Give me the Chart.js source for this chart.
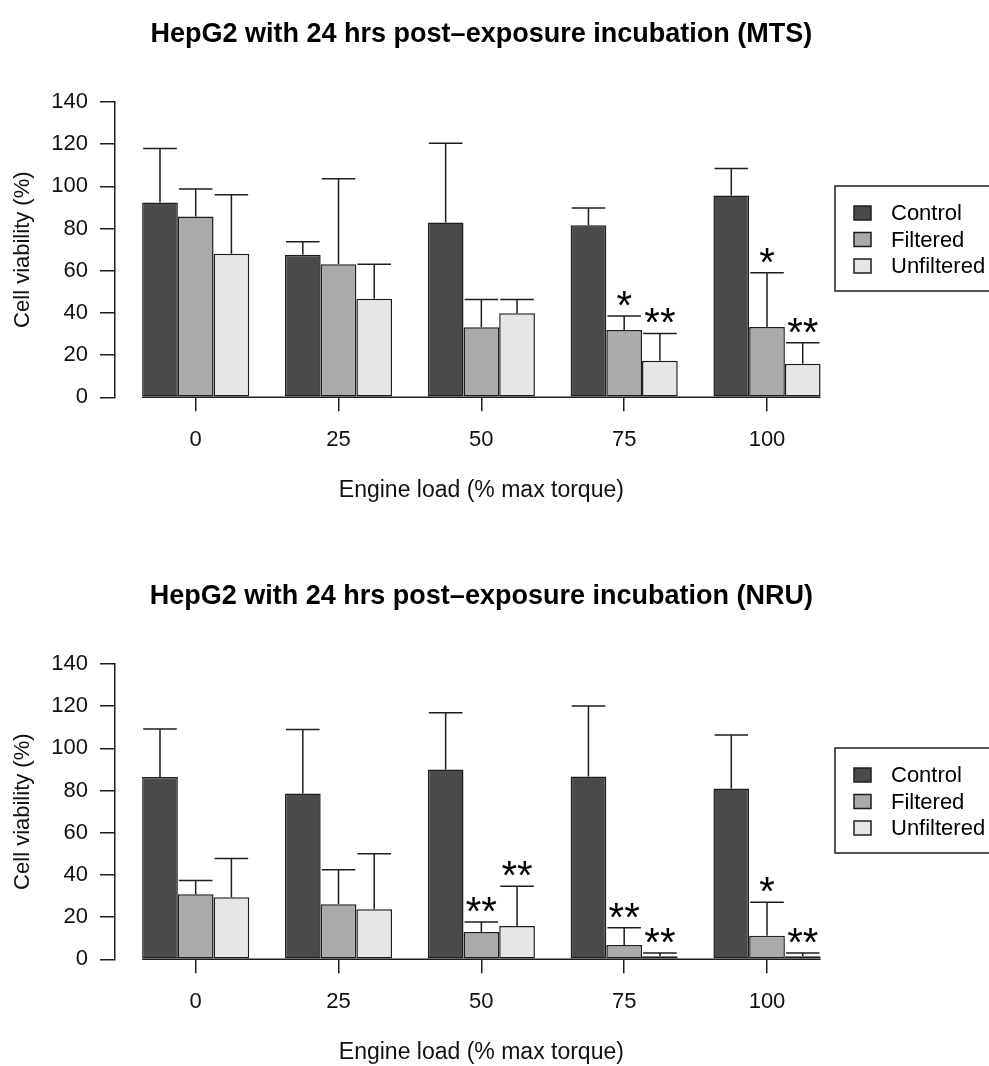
<!DOCTYPE html>
<html>
<head>
<meta charset="utf-8">
<script src="https://cdn.jsdelivr.net/npm/chart.js@4.4.0/dist/chart.umd.min.js"></script>
<style>
body { margin: 0; background: #fff; }
.panel { position: absolute; left: 0; width: 989px; height: 504px; }
</style>
</head>
<body>
<div class="panel" style="top:0"><canvas id="mts" width="989" height="504"></canvas></div>
<div class="panel" style="top:562px"><canvas id="nru" width="989" height="504"></canvas></div>
<script>
// engine loads (x categories) and y axis ticks
const loads = [0, 25, 50, 75, 100];
const yTickValues = [0, 20, 40, 60, 80, 100, 120, 140];
const seriesNames = ['Control', 'Filtered', 'Unfiltered'];
const seriesColors = ['#4a4a4a', '#aaaaaa', '#e6e6e6'];

// MTS panel: means and upper error (sd)
const mtsControl = [92.4, 67.6, 82.9, 81.6, 95.7];
const mtsControlSd = [25.5, 6.1, 37.6, 8.2, 12.8];
const mtsFiltered = [85.7, 63.1, 33.2, 31.9, 33.3];
const mtsFilteredSd = [13.1, 40.5, 13.2, 6.6, 25.7];
const mtsUnfiltered = [68.0, 46.7, 39.8, 17.3, 15.9];
const mtsUnfilteredSd = [28.0, 16.4, 6.6, 13.0, 10.0];
const mtsStars = [['', '', '', '', ''], ['', '', '', '*', '*'], ['', '', '', '**', '**']];

// NRU panel
const nruControl = [86.4, 78.6, 90.0, 86.7, 81.0];
const nruControlSd = [22.8, 30.4, 26.9, 33.4, 25.3];
const nruFiltered = [30.8, 26.1, 13.0, 6.8, 11.2];
const nruFilteredSd = [6.5, 16.3, 4.7, 8.2, 15.9];
const nruUnfiltered = [29.4, 23.7, 15.8, 1.4, 1.4];
const nruUnfilteredSd = [18.4, 26.3, 18.8, 1.6, 1.6];
const nruStars = [['', '', '', '', ''], ['', '', '**', '**', '*'], ['', '', '**', '**', '**']];

const ink = '#1e1e1e';
const lw = 1.5;
const fontFam = "'Liberation Sans', Arial, Helvetica, sans-serif";
Chart.defaults.font.family = fontFam;
Chart.defaults.color = '#111';

function makeChart(id, title, means, sds, stars) {
  const extras = {
    id: 'extras',
    afterDatasetsDraw(chart) {
      const ctx = chart.ctx;
      const y = chart.scales.y;
      ctx.save();
      ctx.strokeStyle = ink;
      ctx.lineWidth = lw;
      // line along zero under all bars
      const first = chart.getDatasetMeta(0).data[0];
      const last = chart.getDatasetMeta(2).data[loads.length - 1];
      const y0 = y.getPixelForValue(0);
      ctx.beginPath();
      ctx.moveTo(first.x - first.width / 2, y0);
      ctx.lineTo(last.x + last.width / 2, y0);
      ctx.stroke();
      // error bars + significance stars
      ctx.font = '40px ' + fontFam;
      ctx.fillStyle = '#000';
      ctx.textAlign = 'center';
      ctx.textBaseline = 'alphabetic';
      sds.forEach((sd, i) => {
        chart.getDatasetMeta(i).data.forEach((bar, j) => {
          const top = y.getPixelForValue(means[i][j] + sd[j]);
          const hw = bar.width * 0.47;
          ctx.beginPath();
          ctx.moveTo(bar.x, bar.y);
          ctx.lineTo(bar.x, top);
          ctx.moveTo(bar.x - hw, top);
          ctx.lineTo(bar.x + hw, top);
          ctx.stroke();
          if (stars[i][j]) ctx.fillText(stars[i][j], bar.x, top + 3);
        });
      });
      ctx.restore();
    },
    afterDraw(chart) {
      // legend box at right
      const ctx = chart.ctx;
      const top = chart.chartArea.top + 84;
      ctx.save();
      ctx.strokeStyle = ink;
      ctx.lineWidth = lw;
      ctx.strokeRect(835, top, 170, 105);
      ctx.font = '22px ' + fontFam;
      ctx.textBaseline = 'middle';
      ctx.textAlign = 'left';
      chart.data.datasets.forEach((ds, i) => {
        const ry = top + 27 + i * 26.5;
        ctx.fillStyle = ds.backgroundColor;
        ctx.fillRect(854, ry - 7, 17, 14);
        ctx.strokeRect(854, ry - 7, 17, 14);
        ctx.fillStyle = '#000';
        ctx.fillText(ds.label, 891, ry + 1);
      });
      ctx.restore();
    }
  };

  return new Chart(document.getElementById(id), {
    type: 'bar',
    data: {
      datasets: seriesNames.map((name, i) => ({
        label: name,
        data: loads.map((x, j) => ({ x: x, y: means[i][j] })),
        backgroundColor: seriesColors[i],
        borderColor: ink,
        borderWidth: lw,
        borderSkipped: false,
        categoryPercentage: 0.75,
        barPercentage: 1
      }))
    },
    options: {
      responsive: false,
      animation: false,
      events: [],
      layout: { padding: { left: 0, right: 141.3, top: 0, bottom: 0 } },
      plugins: {
        legend: { display: false },
        tooltip: { enabled: false },
        title: {
          display: true,
          text: title,
          fullSize: false,
          color: '#000',
          font: { size: 27, weight: 'bold' },
          padding: { top: 18, bottom: 51.6 }
        }
      },
      scales: {
        x: {
          type: 'linear',
          min: -14.125,
          max: 114.125,
          offset: false,
          afterBuildTicks: s => { s.ticks = loads.map(v => ({ value: v })); },
          afterFit: s => { s.height = 106.7; },
          border: { display: false },
          grid: { drawOnChartArea: false, offset: false, tickLength: 14, color: ink, lineWidth: lw },
          ticks: { padding: 15, color: '#111', font: { size: 22 } },
          title: { display: true, text: 'Engine load (% max torque)', color: '#111', font: { size: 23 }, padding: { top: 0, bottom: 0 } }
        },
        y: {
          min: 0,
          max: 140,
          afterBuildTicks: s => { s.ticks = yTickValues.map(v => ({ value: v })); },
          afterFit: s => { s.width = 115; },
          border: { display: true, color: ink, width: lw },
          grid: { drawOnChartArea: false, tickLength: 15, color: ink, lineWidth: lw },
          ticks: { padding: 12, color: '#111', font: { size: 22 } },
          title: { display: true, text: 'Cell viability (%)', color: '#111', font: { size: 22 }, padding: { top: 10, bottom: 0 } }
        }
      }
    },
    plugins: [extras]
  });
}

makeChart('mts', 'HepG2 with 24 hrs post\u2013exposure incubation (MTS)',
  [mtsControl, mtsFiltered, mtsUnfiltered], [mtsControlSd, mtsFilteredSd, mtsUnfilteredSd], mtsStars);
makeChart('nru', 'HepG2 with 24 hrs post\u2013exposure incubation (NRU)',
  [nruControl, nruFiltered, nruUnfiltered], [nruControlSd, nruFilteredSd, nruUnfilteredSd], nruStars);
</script>
</body>
</html>
